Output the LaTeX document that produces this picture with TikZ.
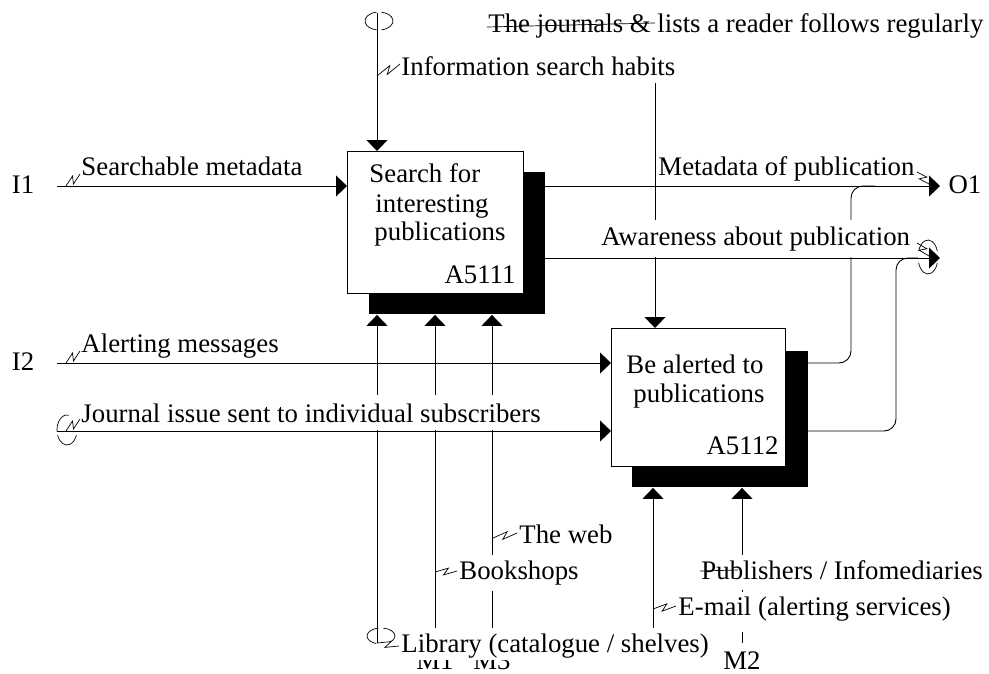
\documentclass[tikz,border=0pt]{standalone}
\usepackage{fontspec}
\setmainfont{Liberation Serif}
\usetikzlibrary{arrows.meta,calc}
\newcommand{\zap}[2]{\draw[thin line] (#1) -- ($(#1)!.62!(#2)!3.3pt!90:(#2)$) -- ($(#1)!.38!(#2)!3.3pt!-90:(#2)$) -- (#2);}
\begin{document}
\begin{tikzpicture}[x=1pt,y=-1pt,line width=0.9pt,
  every node/.style={font=\fontsize{26.8}{29}\selectfont, inner sep=0pt},
  arr/.style={-{Triangle[length=11pt,width=21pt]}},
  boxnode/.style={draw, fill=white, anchor=north west, minimum width=176pt, minimum height=142pt},
  shadownode/.style={fill=black, anchor=north west, minimum width=176pt, minimum height=142pt},
  lbl/.style={fill=white, anchor=base west, inner xsep=1pt, inner ysep=0pt},
  thin line/.style={line width=0.7pt},
  rc/.style={rounded corners=12pt}]
\path[use as bounding box, fill=white] (0,0) rectangle (989,673);

% boxes
\node[shadownode] (b1s) at (369,172) {};
\node[boxnode] (b1) at (347,151) {};
\node[shadownode, minimum width=176pt, minimum height=136pt] (b2s) at (632,351) {};
\node[boxnode, minimum width=174pt, minimum height=138pt] (b2) at (611,328) {};

% coordinates
\coordinate (i1s) at (57,186);
\coordinate (i2s) at (57,363);
\coordinate (j0) at (57,431);
\coordinate (c1t) at (377,13);
\coordinate (c2t) at (655,23);
\coordinate (o1e) at (940,186);
\coordinate (o2e) at (940,258);
\coordinate (k1) at (851,186);
\coordinate (k1e) at (875,186);
\coordinate (k2) at (896,258);
\coordinate (k2e) at (918,258);
\coordinate (lib) at (377,643);
\coordinate (eml) at (653,640);

% mechanism nodes
\node[anchor=base, inner ysep=9pt] (M1) at (435,669) {M1};
\node[anchor=base, inner ysep=9pt] (M3) at (492,669) {M3};
\node[anchor=base, inner ysep=8pt] (M2) at (742,669) {M2};
\node[anchor=base] (I1) at (23,193) {I1};
\node[anchor=base] (I2) at (23,370) {I2};
\node[anchor=base] (O1) at (965,193) {O1};

% connectors
\draw[arr] (i1s) -- (i1s -| b1.west);
\draw[arr] (i2s) -- (i2s -| b2.west);
\draw[arr] (j0) -- (j0 -| b2.west);
\draw[arr] (c1t) -- (c1t |- b1.north);
\draw[arr] (c2t) -- (c2t |- b2.north);
\draw[arr] (b1.east |- o1e) -- (o1e);
\draw[arr] (b1.east |- o2e) -- (o2e);
\draw[rc] (b2.east |- i2s) -| (k1) -- (k1e);
\draw[rc] (b2.east |- j0) -| (k2) -- (k2e);
\draw[arr] (lib) -- (lib |- b1s.south);
\draw[arr] (M1.north) -- (M1.north |- b1s.south);
\draw[arr] (M3.north) -- (M3.north |- b1s.south);
\draw[arr] (eml) -- (eml |- b2s.south);
\draw[arr] (M2.north) -- (M2.north |- b2s.south);

% labels
\node[lbl] (lsm) at (80,175) {Searchable metadata};
\node[lbl] (lam) at (80,352) {Alerting messages};
\node[lbl, text height=27pt, text depth=8pt] (lji) at (80,422) {Journal issue sent to individual subscribers};
\node[lbl, text height=38pt, text depth=8pt] (lish) at (400,75) {Information search habits};
\node[lbl, text height=19pt, text depth=6pt] (ljr) at (487,32) {The journals \& lists a reader follows regularly};
\node[lbl] (lmp) at (657,175) {Metadata of publication};
\node[lbl, text height=25pt, text depth=12pt] (lap) at (600,245) {Awareness about publication};
\node[lbl] (lweb) at (518,543) {The web};
\node[lbl, text height=24pt, text depth=12pt] (lbk) at (458,579) {Bookshops};
\node[lbl, text height=24pt, text depth=8pt] (llib) at (400,652) {Library (catalogue / shelves)};
\node[lbl, text height=24pt, text depth=11pt] (lpub) at (700,579) {Publishers / Infomediaries};
\node[lbl, text height=23pt, text depth=17pt] (lem) at (677,615) {E-mail (alerting services)};

% box texts
\node[anchor=base west] (t1a) at (369,182) {Search for};
\node[anchor=base west] (t1b) at (375,212) {interesting};
\node[anchor=base west] (t1c) at (374,240) {publications};
\node[anchor=base east] (t1d) at (516,283) {A5111};
\node[anchor=base west] (t2a) at (626,373) {Be alerted to};
\node[anchor=base west] (t2b) at (633,402) {publications};
\node[anchor=base east] (t2d) at (779,454) {A5112};

% leaders
\coordinate (jl1) at (487,27);
\draw[thin line] (jl1) -- (c2t);
\coordinate (pl1) at (700,571);
\coordinate (pl2) at (738,570);
\draw[thin line] (pl1) -- (pl2);

% squiggles
\coordinate (s1a) at (66,186); \coordinate (s1b) at (80,174);
\coordinate (s2a) at (66,363); \coordinate (s2b) at (80,351);
\coordinate (s3a) at (66,431); \coordinate (s3b) at (80,419);
\coordinate (s4a) at (377,76); \coordinate (s4b) at (400,64);
\coordinate (s5a) at (917,172); \coordinate (s5b) at (929,184);
\coordinate (s6a) at (917,243); \coordinate (s6b) at (929,256);
\coordinate (s7a) at (493,538); \coordinate (s7b) at (517,533);
\coordinate (s8a) at (435,572); \coordinate (s8b) at (457,571);
\coordinate (s9a) at (377,643); \coordinate (s9b) at (399,646);
\coordinate (s10a) at (653,609); \coordinate (s10b) at (676,606);
\zap{s1a}{s1b}
\zap{s2a}{s2b}
\zap{s3a}{s3b}
\zap{s4a}{s4b}
\zap{s5a}{s5b}
\zap{s6a}{s6b}
\zap{s7a}{s7b}
\zap{s8a}{s8b}
\zap{s9a}{s9b}
\zap{s10a}{s10b}

% tunnels
\coordinate (tu1) at (379,21);
\draw[thin line] ($(tu1)+(100:14pt and 9pt)$) arc[start angle=100, end angle=260, x radius=14pt, y radius=9pt];
\draw[thin line] ($(tu1)+(-80:14pt and 9pt)$) arc[start angle=-80, end angle=80, x radius=14pt, y radius=9pt];
\coordinate (tu3) at (67,430);
\draw[thin line] ($(tu3)+(80:10pt and 15pt)$) arc[start angle=80, end angle=185, x radius=10pt, y radius=15pt];
\draw[thin line] ($(tu3)+(200:10pt and 15pt)$) arc[start angle=200, end angle=340, x radius=10pt, y radius=15pt];
\coordinate (tu6) at (928,257);
\draw[thin line] ($(tu6)+(20:10pt and 17pt)$) arc[start angle=20, end angle=160, x radius=10pt, y radius=17pt];
\draw[thin line] ($(tu6)+(200:10pt and 17pt)$) arc[start angle=200, end angle=340, x radius=10pt, y radius=17pt];
\coordinate (tu9) at (381,636);
\draw[thin line] ($(tu9)+(100:14pt and 8pt)$) arc[start angle=100, end angle=250, x radius=14pt, y radius=8pt];
\draw[thin line] ($(tu9)+(-50:14pt and 8pt)$) arc[start angle=-50, end angle=80, x radius=14pt, y radius=8pt];
\end{tikzpicture}
\end{document}
